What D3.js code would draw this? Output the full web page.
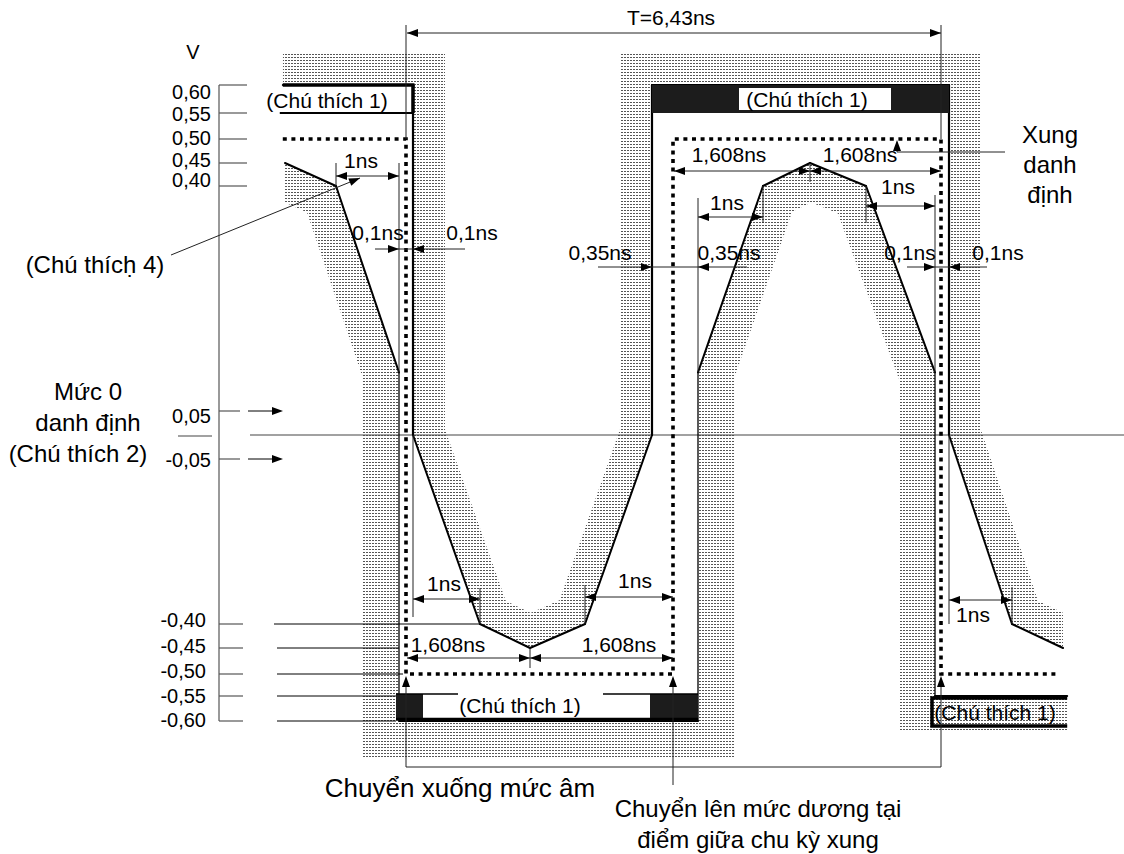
<!DOCTYPE html>
<html>
<head>
<meta charset="utf-8">
<script src="https://cdn.jsdelivr.net/npm/d3@7"></script>
<style>
  body { margin: 0; background: #fff; }
  svg text { font-family: "Liberation Sans", Arial, sans-serif; fill: #000; }
</style>
</head>
<body>
<svg id="chart" width="1124" height="854"></svg>
<script>
// ---- data (time in ns, level in V) ----
const timeKnots = [-1.608, -1.1, -0.1, 0, 0.1, 1.1, 1.608, 2.215, 2.865, 3.215, 3.565, 4.565, 4.823, 5.33, 6.33, 6.43, 6.53, 7.53, 8.038];
const voltKnots = [-0.6, -0.55, -0.5, -0.45, -0.4, -0.05, 0, 0.05, 0.4, 0.45, 0.5, 0.55, 0.6];

const tickValues = [0.60, 0.55, 0.50, 0.45, 0.40, 0.05, -0.05, -0.40, -0.45, -0.50, -0.55, -0.60];
const tickLabels = ["0,60", "0,55", "0,50", "0,45", "0,40", "0,05", "-0,05", "-0,40", "-0,45", "-0,50", "-0,55", "-0,60"];

// upper limit of the mask (signal must stay below)
const upperMask = [[-1.63, 0.60], [0.1, 0.60], [0.1, 0], [1.1, -0.40], [1.608, -0.45], [2.215, -0.40],
                   [2.865, 0], [2.865, 0.60], [6.53, 0.60], [6.53, 0], [7.53, -0.40], [8.038, -0.45]];
// lower limit of the mask (signal must stay above)
const lowerMask = [[-1.608, 0.45], [-1.1, 0.40], [-0.1, 0.11], [-0.1, -0.60], [3.565, -0.60], [3.565, 0.11],
                   [4.565, 0.40], [4.823, 0.45], [5.33, 0.40], [6.33, 0.11], [6.33, -0.55], [8.08, -0.55]];
// nominal pulse (Xung danh định)
const nominalPulse = [[-1.63, 0.5], [0, 0.5], [0, -0.5], [3.215, -0.5], [3.215, 0.5], [6.43, 0.5], [6.43, -0.5], [8.0, -0.5]];

const dimSpans  = [[0, 6.43], [-1.1, -0.1], [0.1, 1.1], [2.215, 3.215], [0, 1.608], [1.608, 3.215],
                   [3.215, 4.823], [4.823, 6.43], [3.565, 4.565], [5.33, 6.33], [6.53, 7.53]];
const dimLabels = ["T=6,43ns", "1ns", "1ns", "1ns", "1,608ns", "1,608ns", "1,608ns", "1,608ns", "1ns", "1ns", "1ns"];

const gapSpans  = [[-0.1, 0.1], [2.865, 3.565], [6.33, 6.53]];
const gapLabels = [["0,1ns", "0,1ns"], ["0,35ns", "0,35ns"], ["0,1ns", "0,1ns"]];

// ---- layout ----
const W = 1124, H = 854;
const svg = d3.select('#chart');
svg.append('rect').attr('width', W).attr('height', H).attr('fill', '#fff');

// schematic, not to scale: piecewise linear scales
const x = d3.scaleLinear().domain(timeKnots)
    .range([285, 336, 399, 406, 413, 480, 530, 585, 652, 673, 698, 763, 810, 866, 935, 941, 949, 1012, 1063]);
const y = d3.scaleLinear().domain(voltKnots)
    .range([721, 696, 674, 648, 624, 459, 435, 411, 186, 163, 139, 113, 85]);

const dimLayout = [
  {yy: 33, cx: 671, by: 25}, {yy: 176, cx: 361, by: 168}, {yy: 599, cx: 444, by: 591},
  {yy: 597, cx: 635, by: 588}, {yy: 658, cx: 448, by: 652}, {yy: 658, cx: 619, by: 652},
  {yy: 171, cx: 729, by: 162}, {yy: 171, cx: 860, by: 162}, {yy: 217, cx: 727, by: 210},
  {yy: 206, cx: 898, by: 194}, {yy: 600, cx: 973, by: 622}
];
const gapLayout = [
  {yy: 249, ext: [24, 52], cx: [378, 472], by: 240},
  {yy: 267, ext: [54, 49], cx: [600, 729], by: 260},
  {yy: 267, ext: [28, 38], cx: [910, 998], by: 260}
];
const labelOffset = [14, 8, 6, 4, 1, 12, 8, 3, 5, 4, 7, 6];

const defs = svg.append('defs');
const pat = defs.append('pattern').attr('id', 'stip')
    .attr('width', 3).attr('height', 3).attr('patternUnits', 'userSpaceOnUse');
pat.append('rect').attr('width', 2).attr('height', 1).attr('fill', '#555');

// stippled band on the forbidden side of a mask line
function band(pts, side, id, w) {
  const px = pts.map(d => [x(d[0]), y(d[1])]);
  const edge = side === 'up' ? 0 : H;
  const poly = px.concat([[px[px.length - 1][0], edge], [px[0][0], edge]]);
  defs.append('clipPath').attr('id', id).append('path').attr('d', 'M' + poly.join('L') + 'Z');
  svg.append('path').attr('d', d3.line()(px))
     .attr('fill', 'none').attr('stroke', 'url(#stip)')
     .attr('stroke-width', w * 2).attr('stroke-linejoin', 'miter').attr('stroke-miterlimit', 3)
     .attr('clip-path', 'url(#' + id + ')');
}
band(upperMask, 'up', 'clipU', 32);
band(lowerMask, 'down', 'clipL', 36);

const g = svg.append('g');

function line(x1, y1, x2, y2, w, col) {
  return g.append('line').attr('x1', x1).attr('y1', y1).attr('x2', x2).attr('y2', y2)
    .attr('stroke', col || '#000').attr('stroke-width', w || 1);
}
function head(tx, ty, ang) {
  const L = 11, Wd = 4, a = ang * Math.PI / 180;
  const bx = tx - L * Math.cos(a), by = ty - L * Math.sin(a);
  const px = -Math.sin(a) * Wd, py = Math.cos(a) * Wd;
  g.append('path').attr('d', `M${tx},${ty}L${bx + px},${by + py}L${bx - px},${by - py}Z`).attr('fill', '#000');
}
function text(s, cx, by, size, anchor) {
  return g.append('text').attr('x', cx).attr('y', by).attr('font-size', size)
    .attr('text-anchor', anchor || 'middle').text(s);
}

// ---- y axis ----
const axisCol = '#555';
line(219, y(0.6), 219, y(-0.6), 1.2, axisCol);
tickValues.forEach((v, i) => {
  const upper = v > 0.3, mid = Math.abs(v) < 0.1;
  line(219, y(v), upper ? 247 : (mid ? 240 : 243), y(v), 1.2, axisCol);
  text(tickLabels[i], v > -0.1 ? 211 : 206, y(v) + labelOffset[i], 20, 'end');
  if (mid) { line(248, y(v), 272, y(v), 1); head(283, y(v), 0); }
});
text('V', 193, 59, 20);
// long reference lines for the negative levels
line(274, y(-0.40), x(1.1), y(-0.40), 1);
line(277, y(-0.45), x(-0.1), y(-0.45), 1);
line(277, y(-0.50), x(0) - 3, y(-0.50), 1);
line(277, y(-0.55), x(-0.1) - 3, y(-0.55), 1);
line(277, y(-0.60), x(-0.1) - 3, y(-0.60), 1);

// nominal zero line
line(250, y(0), W, y(0), 1.2, '#444');
line(178, y(0) + 1, 212, y(0) + 1, 1.2, '#444');

// ---- mask lines ----
function maskLines(pts, wV, wD) {
  for (let i = 1; i < pts.length; i++) {
    const a = pts[i - 1], b = pts[i];
    line(x(a[0]), y(a[1]), x(b[0]), y(b[1]), a[0] === b[0] ? wV : wD).attr('stroke-linecap', 'round');
  }
}
maskLines(upperMask, 2.2, 2);
maskLines(lowerMask, 1.3, 2);

// ---- note boxes (Chú thích 1) ----
line(x(-1.63), y(0.6), x(0.1) + 1.5, y(0.6), 3.5);
line(x(-1.66), y(0.55), x(0.1), y(0.55), 2);
line(x(0.1), y(0.6), x(0.1), y(0.55), 3.5);
text('(Chú thích 1)', 327, 108, 21);

g.append('rect').attr('x', x(2.865)).attr('y', y(0.6)).attr('width', x(6.53) - x(2.865))
  .attr('height', y(0.55) - y(0.6)).attr('fill', '#1c1c1c');
g.append('rect').attr('x', x(4.823) - 71).attr('y', y(0.6) + 3).attr('width', 152)
  .attr('height', y(0.55) - y(0.6) - 6).attr('fill', '#fff');
text('(Chú thích 1)', x(4.823) - 3, 107, 21);

const bTop = y(-0.55) - 2, bBot = y(-0.6) - 2;
g.append('rect').attr('x', x(-0.1) - 3).attr('y', bTop).attr('width', 27).attr('height', bBot - bTop).attr('fill', '#1c1c1c');
g.append('rect').attr('x', x(2.865) - 2).attr('y', bTop).attr('width', x(3.565) - x(2.865) + 2).attr('height', bBot - bTop).attr('fill', '#1c1c1c');
line(x(-0.1) - 3, bTop, 458, bTop, 1.5);
line(603, bTop, x(3.565), bTop, 1.5);
line(x(-0.1) - 3, bBot, x(3.565), bBot, 2.5);
text('(Chú thích 1)', 520, 713, 21);

g.append('path').attr('d', `M${x(8.08)},${y(-0.55) + 2}H${x(6.33) - 3}V${y(-0.6) + 5}H${x(8.08)}`)
  .attr('fill', 'none').attr('stroke', '#000').attr('stroke-width', 3.5);
text('(Chú thích 1)', 995, 720, 21);

// ---- nominal pulse (dotted) ----
g.append('path').attr('d', d3.line().x(d => x(d[0])).y(d => y(d[1]))(nominalPulse))
  .attr('fill', 'none').attr('stroke', '#000').attr('stroke-width', 3.6)
  .attr('stroke-dasharray', '4,4.6');

// ---- extension lines ----
const extCol = '#222';
line(x(-1.1), y(0.45), x(-1.1), y(0.40), 1, extCol);
line(x(-0.1), 163, x(-0.1), y(0.11), 1, extCol);
line(x(0.1), y(0), x(0.1), 617, 1, extCol);
line(x(1.1), 588, x(1.1), y(-0.40), 1, extCol);
line(x(2.215), 585, x(2.215), y(-0.40), 1, extCol);
line(x(1.608), y(-0.45), x(1.608), 668, 1, extCol);
line(x(4.823), y(0.45), x(4.823), 182, 1, extCol);
line(x(3.565), 198, x(3.565), y(0.11), 1, extCol);
line(x(4.565), y(0.40), x(4.565), 223, 1, extCol);
line(x(5.33), y(0.40), x(5.33), 223, 1, extCol);
line(x(6.33), 195, x(6.33), y(0.11), 1, extCol);
line(x(6.53), y(0), x(6.53), y(-0.40), 1, extCol);
line(x(7.53), 587, x(7.53), y(-0.40), 1, extCol);

// period bracket and transition markers
[0, 6.43].forEach(t => {
  line(x(t), 25, x(t), y(0.5), 1, extCol);
  line(x(t), y(-0.5) + 12, x(t), 767, 1, extCol);
  head(x(t), y(-0.5) + 2, -90);
});
line(x(0), 767, x(6.43), 767, 1, extCol);
line(x(3.215), 785, x(3.215), y(-0.5) + 12, 1, extCol);
head(x(3.215), y(-0.5) + 2, -90);

// ---- dimension arrows ----
dimSpans.forEach((s, i) => {
  const L = dimLayout[i];
  const a = x(s[0]) + (s[0] === 0 || s[0] === 3.215 ? 1 : 0), b = x(s[1]);
  line(a, L.yy, b, L.yy, 1, '#222');
  head(a, L.yy, 180);
  head(b, L.yy, 0);
  text(dimLabels[i], L.cx, L.by, 21);
});
gapSpans.forEach((s, i) => {
  const L = gapLayout[i];
  const a = x(s[0]), b = x(s[1]);
  line(a - L.ext[0], L.yy, b + L.ext[1], L.yy, 1, '#222');
  head(a, L.yy, 0);
  head(b, L.yy, 180);
  text(gapLabels[i][0], L.cx[0], L.by, 21);
  text(gapLabels[i][1], L.cx[1], L.by, 21);
});

// ---- callouts ----
g.append('path').attr('d', 'M1005,152H897V148').attr('fill', 'none').attr('stroke', '#222');
head(897, y(0.5) + 1, -90);
text('Xung', 1050, 143, 24);
text('danh', 1050, 173, 24);
text('định', 1050, 203, 24);

const c4 = [171, 255], c4tip = [360, 178];
line(c4[0], c4[1], c4tip[0], c4tip[1], 1, '#222');
head(c4tip[0], c4tip[1], Math.atan2(c4tip[1] - c4[1], c4tip[0] - c4[0]) * 180 / Math.PI);
text('(Chú thícḥ 4)', 95, 273, 24);

text('Mức 0', 88, 400, 24);
text('danh định', 88, 431, 24);
text('(Chú thích 2)', 78, 462, 24);

text('Chuyển xuống mức âm', 460, 797, 26);
text('Chuyển lên mức dương tại', 758, 817, 24);
text('điểm giữa chu kỳ xung', 758, 848, 24);
</script>
</body>
</html>
